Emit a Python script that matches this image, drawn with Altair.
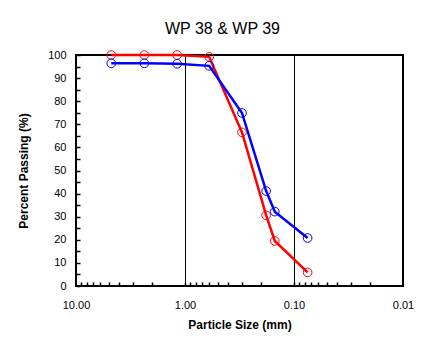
import altair as alt
import pandas as pd

sizes = [4.75, 2.36, 1.18, 0.60, 0.30, 0.18, 0.15, 0.075]
wp38 = [100.0, 100.0, 100.0, 99.2, 66.5, 30.6, 19.5, 5.9]
wp39 = [96.4, 96.4, 96.2, 95.3, 74.9, 41.1, 32.2, 20.8]
series_names = ["WP 38", "WP 39"]
series_colors = ["#FF0000", "#0000FF"]

x_major = [10, 1, 0.1, 0.01]
x_minor = [k * d for d in [0.01, 0.1, 1] for k in range(2, 10)]
y_major = list(range(0, 101, 10))
y_minor = list(range(0, 101, 5))

rows = []
for name, vals in zip(series_names, [wp38, wp39]):
    for i, (s, v) in enumerate(zip(sizes, vals)):
        rows.append({"size": s, "pct": v, "series": name, "order": i})
df = pd.DataFrame(rows)

FONT = "Liberation Sans"
xscale = alt.Scale(type="log", domain=[0.01, 10], reverse=True, nice=False)
yscale = alt.Scale(domain=[0, 100], nice=False, zero=False)
color = alt.Color("series:N", scale=alt.Scale(domain=series_names, range=series_colors), legend=None)

base = alt.Chart(df)

# axis with labels and titles
lines = base.mark_line(strokeWidth=2.5).encode(
    x=alt.X("size:Q", scale=xscale, title="Particle Size (mm)",
            axis=alt.Axis(values=x_major, format=".2f", orient="bottom", tickSize=0, domain=False,
                          grid=False, labelPadding=13, titlePadding=9, labelFont=FONT, labelFontSize=11,
                          labelColor="black", titleFont=FONT, titleFontSize=12, titleFontWeight="bold",
                          titleColor="black", labelFlush=False)),
    y=alt.Y("pct:Q", scale=yscale, title="Percent Passing (%)",
            axis=alt.Axis(values=y_major, orient="left", tickSize=0, domain=False, grid=False,
                          labelPadding=10, titlePadding=17, labelFont=FONT, labelFontSize=11,
                          labelColor="black", titleFont=FONT, titleFontSize=12, titleFontWeight="bold",
                          titleColor="black", labelFlush=False)),
    color=color,
    order="order:Q",
)

points = base.mark_point(shape="circle", filled=False, size=75, strokeWidth=1, opacity=1).encode(
    x=alt.X("size:Q", scale=xscale, axis=None),
    y=alt.Y("pct:Q", scale=yscale, axis=None),
    color=color,
)

# minor ticks pointing inward
ticks_layer = alt.Chart(df).mark_point(opacity=0).encode(
    x=alt.X("size:Q", scale=xscale, title=None,
            axis=alt.Axis(values=x_minor + [1, 0.1], orient="bottom", offset=-4, tickSize=4, tickWidth=1.5,
                          tickColor="black", labels=False, domain=False, grid=False)),
    y=alt.Y("pct:Q", scale=yscale, title=None,
            axis=alt.Axis(values=y_minor, orient="left", offset=-4, tickSize=4, tickWidth=1.5,
                          tickColor="black", labels=False, domain=False, grid=False)),
)

# gridlines at 1 and 0.1
grid_layer = alt.Chart(df).mark_point(opacity=0).encode(
    x=alt.X("size:Q", scale=xscale, title=None,
            axis=alt.Axis(values=[1, 0.1], orient="top", ticks=False, labels=False, domain=False,
                          grid=True, gridColor="black", gridWidth=1, gridOpacity=1)),
    y=alt.Y("pct:Q", scale=yscale, axis=None),
)

chart = alt.layer(grid_layer, lines, points, ticks_layer).resolve_axis(
    x="independent", y="independent"
).properties(
    width=327, height=231,
    title=alt.Title("WP 38 & WP 39", font=FONT, fontSize=16, fontWeight="normal", color="black",
                    anchor="middle", dx=-17, offset=12),
    autosize=alt.AutoSizeParams(type="none"),
    padding={"left": 76, "top": 55, "right": 42, "bottom": 66},
).configure(background="white").configure_view(stroke="black", strokeWidth=2)

chart.save("out.html", embed_options={"renderer": "svg", "actions": False})
